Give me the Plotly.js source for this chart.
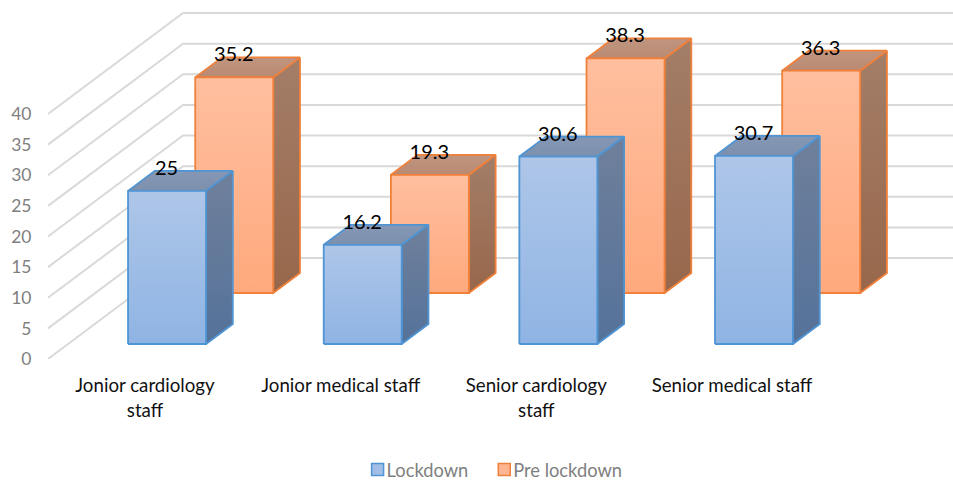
<!DOCTYPE html>
<html>
<head>
<meta charset="utf-8">
<script src="https://cdn.plot.ly/plotly-3.0.1.min.js"></script>
<style>html,body{margin:0;padding:0;background:#fff}#c{width:953px;height:480px}</style>
</head>
<body>
<div id="c"></div>
<script>
const categories = ["Jonior cardiology<br>staff", "Jonior medical staff", "Senior cardiology<br>staff", "Senior medical staff"];
const lockdown = [25, 16.2, 30.6, 30.7];
const preLockdown = [35.2, 19.3, 38.3, 36.3];
const yTicks = [0, 5, 10, 15, 20, 25, 30, 35, 40];
const seriesNames = ["Lockdown", "Pre lockdown"];

// Oblique projection: x units are px, depth is in px of vertical rise
const pxPerUnit = 6.125, skew = 1.337, wallDepth = 101;
const leftX = 48, rightX = 953, catStep = 195.65, barW = 78;
const P = (x, d, v) => [x + skew * d, v + d / pxPerUnit];

const styles = [
  {row: 15, x0: 108, line: "#4f94d3", front: ["#aec6e8", "#8fb4e4"], side: ["#6f809b", "#55729a"], top: ["#8597b4", "#7c90ae"], swatch: "#a2bee6"},
  {row: 66, x0: 107, line: "#f0803a", front: ["#ffbf9f", "#ffa97d"], side: ["#a37e68", "#98674b"], top: ["#c09580", "#b98a72"], swatch: "#ffb592"}
];
const barDepth = 20;

function poly(pts, colors, line) {
  const closed = pts.concat([pts[0]]);
  return {
    type: "scatter", mode: "lines", x: closed.map(p => p[0]), y: closed.map(p => p[1]),
    fill: "toself", fillcolor: colors[0],
    fillgradient: {type: "vertical", colorscale: [[0, colors[1]], [1, colors[0]]]},
    line: {color: line, width: 1.8}, showlegend: false, hoverinfo: "skip"
  };
}

const traces = [];
yTicks.forEach(v => {
  const a = P(leftX, 0, v), b = P(leftX, wallDepth, v), c = [rightX, b[1]];
  traces.push({type: "scatter", mode: "lines", x: [a[0], b[0], c[0]], y: [a[1], b[1], c[1]],
    line: {color: "#d9d9d9", width: 2}, showlegend: false, hoverinfo: "skip"});
});

function addBars(values, s) {
  values.forEach((v, i) => {
    const x = s.x0 + i * catStep, d0 = s.row, d1 = s.row + barDepth;
    traces.push(poly([P(x + barW, d0, 0), P(x + barW, d1, 0), P(x + barW, d1, v), P(x + barW, d0, v)], s.side, s.line));
    traces.push(poly([P(x, d0, v), P(x + barW, d0, v), P(x + barW, d1, v), P(x, d1, v)], s.top, s.line));
    traces.push(poly([P(x, d0, 0), P(x + barW, d0, 0), P(x + barW, d0, v), P(x, d0, v)], s.front, s.line));
  });
}
addBars(preLockdown, styles[1]);
addBars(lockdown, styles[0]);

function addLabels(values, s) {
  const lift = 21;
  const pts = values.map((v, i) => P(s.x0 + i * catStep + barW / 2, s.row + lift, v));
  traces.push({type: "scatter", mode: "text", x: pts.map(p => p[0] - skew * lift - 0.5), y: pts.map(p => p[1]),
    text: values.map(String), textposition: "middle center",
    textfont: {family: "Lato", size: 20, color: "#000"}, showlegend: false, hoverinfo: "skip"});
}
addLabels(preLockdown, styles[1]);
addLabels(lockdown, styles[0]);

seriesNames.forEach((n, i) => {
  traces.push({type: "scatter", mode: "markers", name: n, x: [null], y: [null],
    marker: {symbol: "square", size: 12, color: styles[i].swatch, line: {color: styles[i].line, width: 1.5}},
    hoverinfo: "skip"});
});

const layout = {
  width: 953, height: 480, paper_bgcolor: "#fff", plot_bgcolor: "#fff",
  margin: {l: 44, r: 0, t: 0, b: 121, autoexpand: false},
  hovermode: false,
  xaxis: {range: [44, 953], showgrid: false, zeroline: false, showline: false,
    tickmode: "array", tickvals: categories.map((c, i) => 145 + i * catStep), ticktext: categories,
    ticks: "outside", ticklen: 10, tickcolor: "rgba(0,0,0,0)",
    tickfont: {family: "Lato", size: 18.7, color: "#111"}, tickangle: 0},
  yaxis: {range: [0, 359 / pxPerUnit], showgrid: false, zeroline: false, showline: false,
    tickmode: "array", tickvals: yTicks, ticktext: yTicks.map(String),
    ticks: "outside", ticklen: 8, tickcolor: "rgba(0,0,0,0)",
    tickfont: {family: "Lato", size: 17.5, color: "#7f7f7f"}},
  legend: {orientation: "h", x: 0.345, xanchor: "left", y: -0.308, yanchor: "middle",
    font: {family: "Lato", size: 18.3, color: "#7f7f7f"}, bgcolor: "rgba(0,0,0,0)", itemclick: false, itemdoubleclick: false}
};
Plotly.newPlot("c", traces, layout, {displayModeBar: false, staticPlot: true}).then(() => {
  // Pull the legend text closer to its swatch, as in the reference
  document.querySelectorAll("#c .legendtext").forEach(t => t.setAttribute("x", +t.getAttribute("x") - 11));
});
</script>
</body>
</html>
